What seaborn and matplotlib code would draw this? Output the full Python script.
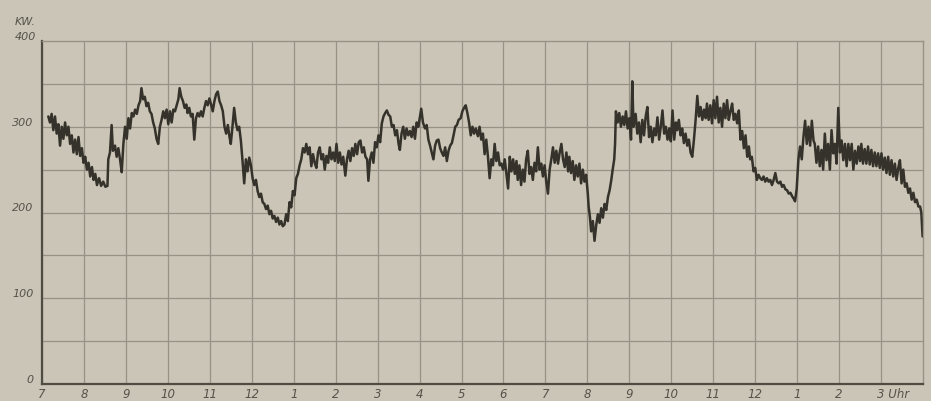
import numpy as np
import pandas as pd
import matplotlib
matplotlib.use("Agg")
import matplotlib.pyplot as plt
import matplotlib.transforms as mtransforms
import seaborn as sns

# ---- data (hours after 7 o'clock, load in kW) ----
t1 = [0.15, 0.19, 0.23, 0.27, 0.31, 0.35, 0.39, 0.43, 0.47, 0.51, 0.55, 0.59, 0.63, 0.67, 0.71, 0.75,
      0.79, 0.83, 0.87, 0.91, 0.95, 0.99, 1.03, 1.07, 1.11, 1.15, 1.19, 1.23, 1.27, 1.31, 1.36, 1.41,
      1.46, 1.51, 1.56, 1.58, 1.62, 1.66, 1.69, 1.74, 1.78, 1.82, 1.86, 1.90, 1.94, 1.98, 2.02, 2.06,
      2.10, 2.14, 2.18, 2.22, 2.26, 2.30, 2.34, 2.37, 2.41, 2.45, 2.49, 2.53, 2.57, 2.61, 2.65, 2.69,
      2.73, 2.77, 2.81, 2.85, 2.89, 2.93, 2.97, 3.01, 3.05, 3.09, 3.13, 3.17, 3.21, 3.25, 3.28, 3.32,
      3.36, 3.40, 3.44]
v1 = [312, 305, 315, 296, 312, 292, 303, 278, 300, 286, 305, 290, 300, 280, 290, 270,
      285, 268, 288, 266, 275, 258, 265, 250, 258, 242, 253, 238, 245, 232, 240, 231,
      236, 230, 231, 262, 270, 302, 272, 278, 265, 275, 262, 247, 280, 300, 286, 310,
      298, 316, 312, 320, 315, 325, 330, 345, 332, 335, 324, 328, 318, 315, 305, 298,
      286, 280, 300, 308, 318, 310, 320, 303, 318, 305, 320, 318, 325, 332, 345, 335,
      330, 322, 326]

t2 = [3.47, 3.51, 3.55, 3.59, 3.63, 3.67, 3.71, 3.75, 3.79, 3.83, 3.87, 3.91, 3.95, 3.99, 4.03, 4.07,
      4.11, 4.15, 4.19, 4.23, 4.27, 4.31, 4.35, 4.39, 4.43, 4.47, 4.50, 4.54, 4.58, 4.62, 4.66, 4.70,
      4.74, 4.78, 4.82, 4.86, 4.90, 4.94, 4.98, 5.02, 5.06, 5.10, 5.14, 5.18, 5.22, 5.26, 5.30, 5.34,
      5.38, 5.42, 5.46, 5.50, 5.54, 5.58, 5.62, 5.66, 5.70, 5.74, 5.78, 5.82, 5.86, 5.90, 5.94, 5.98,
      6.02, 6.06, 6.10, 6.14, 6.18, 6.22, 6.26, 6.30, 6.34, 6.38, 6.42, 6.46, 6.50, 6.54, 6.58, 6.62,
      6.66, 6.70, 6.74, 6.78, 6.82, 6.86, 6.90, 6.94, 6.98]
v2 = [316, 322, 312, 315, 285, 310, 316, 312, 318, 312, 322, 330, 325, 333, 326, 318,
      330, 338, 341, 330, 325, 318, 300, 292, 302, 288, 280, 300, 322, 305, 296, 300,
      284, 260, 234, 262, 248, 264, 255, 240, 232, 238, 225, 218, 222, 212, 210, 204,
      208, 198, 202, 193, 196, 189, 194, 186, 190, 184, 186, 198, 190, 212, 206, 225,
      220, 240, 245, 255, 262, 275, 270, 280, 268, 276, 254, 268, 258, 252, 270, 276,
      262, 268, 250, 266, 258, 276, 262, 270, 260]

t3 = [7.02, 7.06, 7.10, 7.14, 7.18, 7.23, 7.27, 7.31, 7.35, 7.39, 7.43, 7.47, 7.51, 7.55, 7.59, 7.63,
      7.67, 7.71, 7.75, 7.78, 7.82, 7.86, 7.90, 7.94, 7.98, 8.02, 8.06, 8.10, 8.14, 8.18, 8.22, 8.26,
      8.30, 8.34, 8.38, 8.42, 8.46, 8.50, 8.53, 8.57, 8.61, 8.65, 8.69, 8.73, 8.77, 8.81, 8.85, 8.89,
      8.93, 8.97, 9.01, 9.04, 9.08, 9.13, 9.17, 9.21, 9.25, 9.29, 9.33, 9.37, 9.41, 9.45, 9.49, 9.53,
      9.57, 9.61, 9.65, 9.69, 9.73, 9.77, 9.81, 9.85, 9.89, 9.93, 9.98, 10.02, 10.06, 10.10, 10.14,
      10.18, 10.22, 10.26, 10.30, 10.34, 10.39, 10.43, 10.47, 10.51]
v3 = [280, 258, 270, 256, 265, 243, 262, 272, 260, 275, 266, 280, 268, 282, 284, 270,
      276, 265, 262, 237, 262, 270, 258, 282, 276, 290, 282, 304, 312, 316, 319, 314,
      312, 300, 302, 290, 296, 280, 273, 292, 300, 286, 298, 290, 295, 288, 300, 286,
      305, 300, 312, 321, 305, 298, 302, 285, 278, 270, 262, 278, 284, 285, 275, 270,
      266, 276, 260, 272, 278, 281, 290, 300, 302, 308, 310, 318, 322, 325, 316,
      305, 290, 300, 292, 298, 289, 300, 285, 292]

t4 = [10.55, 10.59, 10.63, 10.67, 10.71, 10.75, 10.79, 10.83, 10.87, 10.91, 10.95, 10.99, 11.03, 11.07,
      11.11, 11.15, 11.19, 11.23, 11.27, 11.31, 11.34, 11.38, 11.42, 11.46, 11.50, 11.54, 11.58, 11.62,
      11.66, 11.70, 11.74, 11.78, 11.82, 11.86, 11.90, 11.94, 11.98, 12.02, 12.06, 12.10, 12.14, 12.18,
      12.22, 12.26, 12.30, 12.34, 12.38, 12.42, 12.46, 12.50, 12.54, 12.57, 12.61, 12.65, 12.69, 12.73,
      12.77, 12.81, 12.85, 12.89, 12.93, 12.97, 13.01, 13.03, 13.06, 13.09, 13.13, 13.17, 13.21, 13.25,
      13.29, 13.33, 13.37, 13.41, 13.45, 13.49, 13.53, 13.57, 13.60, 13.64, 13.66, 13.68, 13.72, 13.76,
      13.80, 13.84, 13.88, 13.92, 13.96, 14.00]
v4 = [268, 285, 265, 240, 262, 255, 280, 260, 270, 255, 257, 250, 262, 245,
      228, 265, 248, 262, 245, 260, 238, 255, 232, 250, 236, 262, 272, 245,
      253, 238, 258, 248, 276, 250, 257, 242, 255, 236, 222, 250, 262, 276,
      258, 272, 257, 270, 280, 262, 253, 270, 248, 265, 246, 260, 238, 255,
      242, 257, 234, 250, 236, 244, 222, 207, 195, 178, 190, 167, 185, 198,
      188, 205, 194, 210, 203, 218, 226, 238, 249, 262, 280, 318, 305, 316,
      300, 312, 302, 318, 298, 310]

t5 = [14.04, 14.07, 14.10, 14.15, 14.19, 14.23, 14.27, 14.31, 14.35, 14.39, 14.43, 14.47, 14.51, 14.55,
      14.59, 14.63, 14.67, 14.71, 14.75, 14.79, 14.83, 14.87, 14.91, 14.95, 14.99, 15.03, 15.07, 15.11,
      15.14, 15.18, 15.22, 15.26, 15.30, 15.34, 15.38, 15.42, 15.46, 15.50, 15.54, 15.58, 15.62, 15.66,
      15.70, 15.74, 15.78, 15.82, 15.85, 15.89, 15.93, 15.97, 16.01, 16.05, 16.09, 16.13, 16.17, 16.21,
      16.25, 16.29, 16.33, 16.37, 16.41, 16.45, 16.49, 16.53, 16.57, 16.61, 16.65, 16.69, 16.73, 16.77,
      16.81, 16.85, 16.88, 16.92, 16.96, 17.00, 17.04, 17.08, 17.12, 17.16, 17.20, 17.24, 17.28, 17.32,
      17.36, 17.40, 17.44, 17.48, 17.52]
v5 = [285, 353, 300, 315, 292, 305, 282, 308, 290, 312, 323, 288, 300, 282,
      298, 290, 311, 285, 300, 319, 292, 300, 285, 298, 283, 319, 285, 305,
      296, 308, 290, 298, 281, 292, 278, 285, 270, 265, 285, 308, 336, 312,
      323, 308, 320, 310, 327, 308, 325, 304, 331, 310, 335, 305, 322, 300,
      327, 310, 331, 308, 318, 327, 308, 315, 304, 319, 285, 295, 275, 290,
      265, 277, 262, 265, 248, 252, 238, 244, 240, 238, 242, 236, 240, 236,
      238, 232, 238, 246, 236]

t6 = [17.56, 17.60, 17.64, 17.68, 17.72, 17.76, 17.80, 17.84, 17.88, 17.92, 17.95, 17.99, 18.03, 18.07,
      18.11, 18.15, 18.19, 18.23, 18.27, 18.31, 18.35, 18.39, 18.42, 18.46, 18.50, 18.54, 18.58, 18.62,
      18.66, 18.70, 18.74, 18.78, 18.82, 18.86, 18.90, 18.94, 18.98, 19.02, 19.06, 19.10, 19.14, 19.18,
      19.22, 19.26, 19.30, 19.34, 19.38, 19.42, 19.46, 19.50, 19.53, 19.57, 19.61, 19.65, 19.69, 19.73,
      19.77, 19.81, 19.85, 19.89, 19.93, 19.97, 20.01, 20.05, 20.09, 20.13, 20.17, 20.21, 20.25, 20.29,
      20.33, 20.37, 20.41, 20.45, 20.49, 20.53, 20.57, 20.61, 20.65, 20.69, 20.73, 20.77, 20.81, 20.85,
      20.89, 20.93, 20.96, 20.99]
v6 = [234, 236, 230, 232, 227, 226, 222, 223, 219, 216, 213, 228, 262, 277,
      262, 288, 307, 280, 300, 278, 307, 284, 280, 258, 277, 254, 273, 250,
      292, 261, 280, 250, 296, 269, 280, 257, 322, 270, 284, 261, 280, 254,
      280, 261, 280, 250, 272, 257, 277, 260, 280, 257, 274, 257, 277, 256,
      273, 254, 270, 254, 269, 252, 269, 250, 264, 246, 265, 244, 261, 242,
      257, 238, 252, 261, 234, 250, 230, 234, 223, 228, 215, 223, 212, 215,
      207, 207, 200, 172]

hour_labels = ["7", "8", "9", "10", "11", "12", "1", "2", "3", "4", "5", "6",
               "7", "8", "9", "10", "11", "12", "1", "2", "3 Uhr"]
kw_labels = ["0", "100", "200", "300"]
kw_label_values = [0, 100, 200, 300]

df = pd.DataFrame({
    "hours": t1 + t2 + t3 + t4 + t5 + t6,
    "kW": v1 + v2 + v3 + v4 + v5 + v6,
})

paper = "#cac5b6"
grid_c = "#979285"
ink = "#34322a"
text_c = "#55524a"

sns.set_theme(style="white")
plt.rcParams["font.family"] = ["DejaVu Sans"]

fig = plt.figure(figsize=(9.31, 4.02), dpi=100, facecolor=paper)
ax = fig.add_axes([42 / 931, 1 - 385 / 402, (923 - 42) / 931, (385 - 42) / 402])
ax.set_facecolor(paper)

ax.set_xlim(0, 21)
ax.set_ylim(0, 400)
ax.set_xticks(range(0, 21))
ax.set_yticks(kw_label_values)
ax.set_yticks([50, 150, 250, 350], minor=True)
ax.grid(True, which="both", color=grid_c, lw=0.9)
ax.set_axisbelow(True)

sns.lineplot(data=df, x="hours", y="kW", ax=ax, color=ink, lw=1.8,
             estimator=None, sort=False)

ax.set_xlabel("")
ax.set_ylabel("")
ax.set_xticklabels(hour_labels, fontsize=8.5, style="italic", color=text_c)
ax.set_yticklabels(kw_labels, fontsize=8, style="italic", color=text_c, va="bottom")
ax.tick_params(axis="both", which="both", length=0)
ax.tick_params(axis="x", pad=2)
ax.tick_params(axis="y", pad=6)

# the last label "3 Uhr" starts at its grid line
last = ax.get_xticklabels()[-1]
last.set_horizontalalignment("left")
last.set_transform(last.get_transform() + mtransforms.ScaledTranslation(-4 / 100, 0, fig.dpi_scale_trans))

for side in ["top", "right"]:
    ax.spines[side].set_color(grid_c)
    ax.spines[side].set_linewidth(1.0)
for side in ["left", "bottom"]:
    ax.spines[side].set_color("#4f4c43")
    ax.spines[side].set_linewidth(1.6)

ax.text(-0.15, 400, "400", ha="right", va="bottom",
        fontsize=8, style="italic", color=text_c, clip_on=False)
ax.text(-0.15, 418, "KW.", ha="right", va="bottom", fontsize=8, style="italic",
        color=text_c, clip_on=False)

fig.savefig("out.png", dpi=100, facecolor=paper)
